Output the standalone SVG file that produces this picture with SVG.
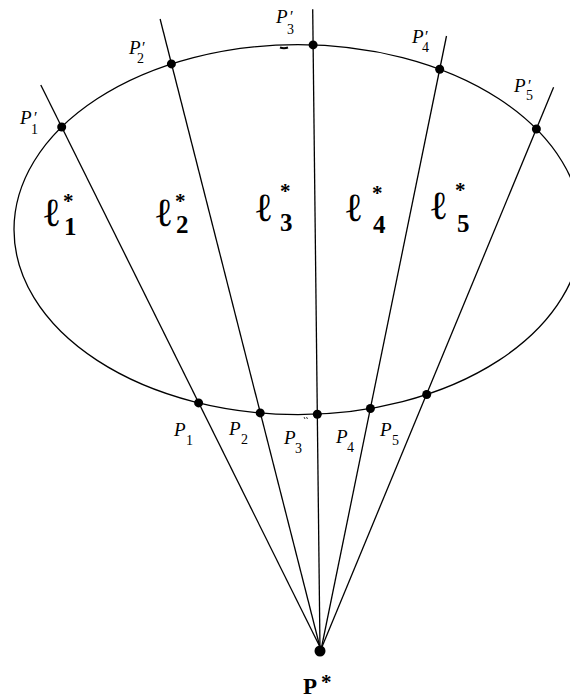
<svg xmlns="http://www.w3.org/2000/svg" width="570" height="698" viewBox="0 0 570 698">
<style>
.ln{stroke:#000;stroke-width:1.3;fill:none}
.ell{stroke:#000;stroke-width:1.3;fill:none}
.dot{fill:#000}
.p{font-family:"Liberation Serif","Times New Roman",serif;font-style:italic;font-size:19px;fill:#000}
.pr{font-style:normal;font-size:16px}
.sb{font-style:normal;font-size:14px}
.l{font-family:"Liberation Serif","Times New Roman",serif;font-weight:bold;font-size:40px;fill:#000}
.st{font-size:21px}
.ls{font-size:25px}
.ps{font-family:"Liberation Serif","Times New Roman",serif;font-weight:bold;font-size:23px;fill:#000}
</style>
<rect width="570" height="698" fill="#fff"/>
<g id="curve">
<ellipse class="ell" cx="298" cy="229.6" rx="284" ry="185"/>
<path d="M280,47.5 q4,1.5 8,0" stroke="#000" stroke-width="2" fill="none"/>
<path d="M304,417 l1,2 M306.5,417 l1,2" stroke="#000" stroke-width="0.8" fill="none"/>
</g>
<g id="connectors">
<line class="ln" x1="40.8" y1="85" x2="321.5" y2="650"/>
<line class="ln" x1="160.1" y1="19" x2="320.7" y2="650"/>
<line class="ln" x1="312.7" y1="9.3" x2="320" y2="650"/>
<line class="ln" x1="446.5" y1="36" x2="321" y2="650"/>
<line class="ln" x1="553.6" y1="87.3" x2="320.7" y2="650"/>
</g>
<g id="P1p"><circle class="dot" cx="61.7" cy="127" r="4.5"/>
<text class="p" x="20" y="124">P<tspan class="pr" x="34" y="123">′</tspan><tspan class="sb" x="31" y="134">1</tspan></text></g>
<g id="P2p"><circle class="dot" cx="171.4" cy="63.9" r="4.5"/>
<text class="p" x="129" y="54">P<tspan class="pr" x="142" y="53">′</tspan><tspan class="sb" x="137" y="63">2</tspan></text></g>
<g id="P3p"><circle class="dot" cx="313.1" cy="44.9" r="4.5"/>
<text class="p" x="276" y="23">P<tspan class="pr" x="290" y="22">′</tspan><tspan class="sb" x="287" y="34">3</tspan></text></g>
<g id="P4p"><circle class="dot" cx="439.7" cy="69.3" r="4.5"/>
<text class="p" x="412" y="43">P<tspan class="pr" x="425" y="42">′</tspan><tspan class="sb" x="422" y="52">4</tspan></text></g>
<g id="P5p"><circle class="dot" cx="536.4" cy="129" r="4.5"/>
<text class="p" x="514" y="92">P<tspan class="pr" x="528" y="91">′</tspan><tspan class="sb" x="526" y="100">5</tspan></text></g>
<g id="P1"><circle class="dot" cx="198.6" cy="402.9" r="4.5"/>
<text class="p" x="174" y="436">P<tspan class="sb" x="186" y="445">1</tspan></text></g>
<g id="P2"><circle class="dot" cx="260.2" cy="412.9" r="4.5"/>
<text class="p" x="229" y="435">P<tspan class="sb" x="241" y="444">2</tspan></text></g>
<g id="P3"><circle class="dot" cx="317.3" cy="414.2" r="4.5"/>
<text class="p" x="284" y="444">P<tspan class="sb" x="295" y="453">3</tspan></text></g>
<g id="P4"><circle class="dot" cx="370.4" cy="408.5" r="4.5"/>
<text class="p" x="336" y="443">P<tspan class="sb" x="347" y="452">4</tspan></text></g>
<g id="P5"><circle class="dot" cx="426.7" cy="394.5" r="4.5"/>
<text class="p" x="380" y="436">P<tspan class="sb" x="392" y="445">5</tspan></text></g>
<g id="l1"><text class="l" x="44" y="226">ℓ<tspan class="st" x="63" y="208">*</tspan><tspan class="ls" x="64" y="235">1</tspan></text></g>
<g id="l2"><text class="l" x="156" y="226">ℓ<tspan class="st" x="175" y="208">*</tspan><tspan class="ls" x="176" y="233">2</tspan></text></g>
<g id="l3"><text class="l" x="256" y="221">ℓ<tspan class="st" x="280" y="198">*</tspan><tspan class="ls" x="280" y="231">3</tspan></text></g>
<g id="l4"><text class="l" x="346" y="221">ℓ<tspan class="st" x="372" y="200">*</tspan><tspan class="ls" x="373" y="233">4</tspan></text></g>
<g id="l5"><text class="l" x="431" y="219">ℓ<tspan class="st" x="455" y="197">*</tspan><tspan class="ls" x="457" y="232">5</tspan></text></g>
<g id="Pstar"><circle class="dot" cx="320" cy="651" r="5.5"/>
<text class="ps" x="303" y="694">P<tspan class="st" x="321" y="689">*</tspan></text></g>
</svg>
